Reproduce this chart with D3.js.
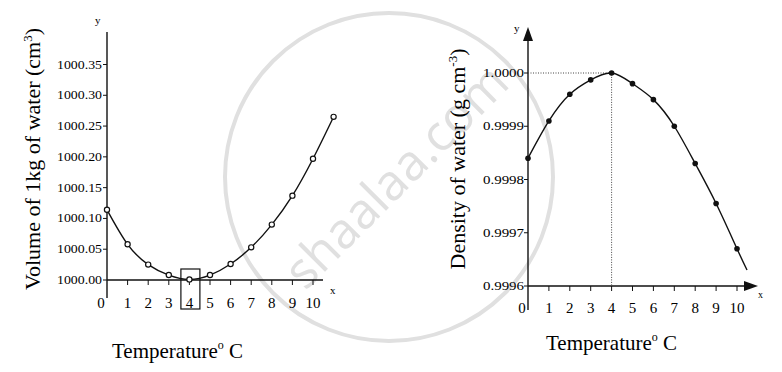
<!DOCTYPE html>
<html>
<head>
<meta charset="utf-8">
<script src="https://cdn.jsdelivr.net/npm/d3@7"></script>
<style>
  body { margin: 0; background: #fff; }
  text { font-family: "Liberation Serif", "DejaVu Serif", serif; fill: #000; }
</style>
</head>
<body>
<script>
// temperatures (deg C)
var temps = [0, 1, 2, 3, 4, 5, 6, 7, 8, 9, 10];
var volTemps = [0, 1, 2, 3, 4, 5, 6, 7, 8, 9, 10, 11];
// volume of 1 kg of water (cm3)
var volume = [1000.114, 1000.058, 1000.025, 1000.008, 1000.001, 1000.008,
              1000.026, 1000.053, 1000.090, 1000.137, 1000.197, 1000.265];
// density of water (g cm-3)
var density = [0.99984, 0.99991, 0.99996, 0.999987, 1.0000, 0.99998,
               0.99995, 0.99990, 0.99983, 0.999755, 0.99967];
// end of the drawn density curve, past the last point
var densityTail = [10.48, 0.99963];

var xTicks = [0, 1, 2, 3, 4, 5, 6, 7, 8, 9, 10];
var volTicks = [1000.00, 1000.05, 1000.10, 1000.15, 1000.20, 1000.25, 1000.30, 1000.35];
var denTicks = [0.9996, 0.9997, 0.9998, 0.9999, 1.0000];

var svg = d3.select("body").append("svg")
    .attr("width", 782)
    .attr("height", 372);

// watermark
svg.append("circle")
    .attr("cx", 389).attr("cy", 177).attr("r", 164)
    .attr("fill", "none")
    .attr("stroke", "#e0e0e0")
    .attr("stroke-width", 4);
svg.append("text")
    .attr("transform", "translate(396,176) rotate(-45)")
    .attr("text-anchor", "middle")
    .attr("dy", "0.35em")
    .style("font-family", "'Open Sans', sans-serif")
    .style("font-size", "50px")
    .style("fill", "#e0e0e0")
    .text("shaalaa.com");

var line = function(x, y) {
  return d3.line()
    .x(function(d) { return x(d[0]); })
    .y(function(d) { return y(d[1]); })
    .curve(d3.curveNatural);
};

// ---------- left chart: volume ----------
var x1 = d3.scaleLinear().domain([0, 10]).range([107, 313]);
var y1 = d3.scaleLinear().domain([1000, 1000.35]).range([280, 64.5]);

var g1 = svg.append("g");

// y axis
g1.append("line")
    .attr("x1", x1(0)).attr("x2", x1(0))
    .attr("y1", 298).attr("y2", 32)
    .attr("stroke", "#111").attr("stroke-width", 1.4);
// x axis
g1.append("line")
    .attr("x1", x1(0)).attr("x2", 323)
    .attr("y1", y1(1000)).attr("y2", y1(1000))
    .attr("stroke", "#111").attr("stroke-width", 1.4);

g1.selectAll(".yt").data(volTicks).enter().append("line")
    .attr("x1", x1(0) - 4).attr("x2", x1(0))
    .attr("y1", function(d) { return y1(d); })
    .attr("y2", function(d) { return y1(d); })
    .attr("stroke", "#111");
g1.selectAll(".yl").data(volTicks).enter().append("text")
    .attr("x", x1(0) - 5)
    .attr("y", function(d) { return y1(d) + 4; })
    .attr("text-anchor", "end")
    .attr("textLength", 45)
    .attr("lengthAdjust", "spacingAndGlyphs")
    .style("font-size", "12px")
    .text(function(d) { return d.toFixed(2); });

g1.selectAll(".xt").data(xTicks.slice(1)).enter().append("line")
    .attr("x1", function(d) { return x1(d); })
    .attr("x2", function(d) { return x1(d); })
    .attr("y1", y1(1000)).attr("y2", y1(1000) + 5)
    .attr("stroke", "#111");
g1.selectAll(".xl").data(xTicks).enter().append("text")
    .attr("x", function(d) { return d === 0 ? x1(d) - 6 : x1(d); })
    .attr("y", 308)
    .attr("text-anchor", "middle")
    .style("font-size", "15px")
    .text(function(d) { return d; });

// box around 4
g1.append("rect")
    .attr("x", x1(4) - 8.5).attr("y", 269)
    .attr("width", 19).attr("height", 40)
    .attr("fill", "none").attr("stroke", "#111").attr("stroke-width", 1.2);

var volData = volTemps.map(function(t, i) { return [t, volume[i]]; });
g1.append("path")
    .datum(volData)
    .attr("d", line(x1, y1))
    .attr("fill", "none").attr("stroke", "#111").attr("stroke-width", 1.4);
g1.selectAll(".pt").data(volData).enter().append("circle")
    .attr("cx", function(d) { return x1(d[0]); })
    .attr("cy", function(d) { return y1(d[1]); })
    .attr("r", 2.6)
    .attr("fill", "#fff").attr("stroke", "#111").attr("stroke-width", 1.2);

g1.append("text").attr("x", 95).attr("y", 24).style("font-size", "11px").text("y");
g1.append("text").attr("x", 330).attr("y", 294).style("font-size", "11px").text("x");

var t1 = g1.append("text")
    .attr("transform", "translate(40,159) rotate(-90)")
    .attr("text-anchor", "middle")
    .style("font-size", "22px");
t1.append("tspan").text("Volume of 1kg of water (cm");
t1.append("tspan").attr("dy", -8).style("font-size", "13px").text("3");
t1.append("tspan").attr("dy", 8).text(")");

var tx1 = g1.append("text").attr("x", 112).attr("y", 358).style("font-size", "21px");
tx1.append("tspan").text("Temperature");
tx1.append("tspan").attr("dy", -9).style("font-size", "12px").text("o");
tx1.append("tspan").attr("dy", 9).text(" C");

// ---------- right chart: density ----------
var x2 = d3.scaleLinear().domain([0, 10]).range([528, 737]);
var y2 = d3.scaleLinear().domain([0.9996, 1.0000]).range([286, 73]);

var g2 = svg.append("g");

g2.append("line")
    .attr("x1", x2(0)).attr("x2", x2(0))
    .attr("y1", 310).attr("y2", 36)
    .attr("stroke", "#111").attr("stroke-width", 1.4);
g2.append("path")
    .attr("d", "M" + x2(0) + ",27 L" + (x2(0) - 5) + ",41 L" + (x2(0) + 5) + ",41 Z")
    .attr("fill", "#111");
g2.append("line")
    .attr("x1", x2(0)).attr("x2", 750)
    .attr("y1", y2(0.9996)).attr("y2", y2(0.9996))
    .attr("stroke", "#111").attr("stroke-width", 1.4);
g2.append("path")
    .attr("d", "M758," + y2(0.9996) + " L744," + (y2(0.9996) - 5) + " L744," + (y2(0.9996) + 5) + " Z")
    .attr("fill", "#111");

g2.selectAll(".yt").data(denTicks).enter().append("line")
    .attr("x1", x2(0) - 4).attr("x2", x2(0))
    .attr("y1", function(d) { return y2(d); })
    .attr("y2", function(d) { return y2(d); })
    .attr("stroke", "#111");
g2.selectAll(".yl").data(denTicks).enter().append("text")
    .attr("x", x2(0) - 4)
    .attr("y", function(d) { return y2(d) + 4; })
    .attr("text-anchor", "end")
    .attr("textLength", 41)
    .attr("lengthAdjust", "spacingAndGlyphs")
    .style("font-size", "12px")
    .text(function(d) { return d.toFixed(4); });

g2.selectAll(".xt").data(xTicks.slice(1)).enter().append("line")
    .attr("x1", function(d) { return x2(d); })
    .attr("x2", function(d) { return x2(d); })
    .attr("y1", y2(0.9996)).attr("y2", y2(0.9996) + 5)
    .attr("stroke", "#111");
g2.selectAll(".xl").data(xTicks).enter().append("text")
    .attr("x", function(d) { return d === 0 ? x2(d) - 6 : x2(d); })
    .attr("y", 313)
    .attr("text-anchor", "middle")
    .style("font-size", "15px")
    .text(function(d) { return d; });

// dotted guides to the maximum
g2.append("path")
    .attr("d", "M" + x2(0) + "," + y2(1.0000) + " H" + x2(4) + " V" + y2(0.9996))
    .attr("fill", "none").attr("stroke", "#444")
    .attr("stroke-width", 1).attr("stroke-dasharray", "1,1.5");

var denData = temps.map(function(t, i) { return [t, density[i]]; });
g2.append("path")
    .datum(denData.concat([densityTail]))
    .attr("d", line(x2, y2))
    .attr("fill", "none").attr("stroke", "#111").attr("stroke-width", 1.4);
g2.selectAll(".pt").data(denData).enter().append("circle")
    .attr("cx", function(d) { return x2(d[0]); })
    .attr("cy", function(d) { return y2(d[1]); })
    .attr("r", 2.8)
    .attr("fill", "#111");

g2.append("text").attr("x", 514).attr("y", 32).style("font-size", "11px").text("y");
g2.append("text").attr("x", 758).attr("y", 298).style("font-size", "10px").text("x");

var t2 = g2.append("text")
    .attr("transform", "translate(465,159) rotate(-90)")
    .attr("text-anchor", "middle")
    .style("font-size", "22px");
t2.append("tspan").text("Density of water (g cm");
t2.append("tspan").attr("dy", -8).style("font-size", "13px").text("-3");
t2.append("tspan").attr("dy", 8).text(")");

var tx2 = g2.append("text").attr("x", 546).attr("y", 350).style("font-size", "21px");
tx2.append("tspan").text("Temperature");
tx2.append("tspan").attr("dy", -9).style("font-size", "12px").text("o");
tx2.append("tspan").attr("dy", 9).text(" C");
</script>
</body>
</html>
